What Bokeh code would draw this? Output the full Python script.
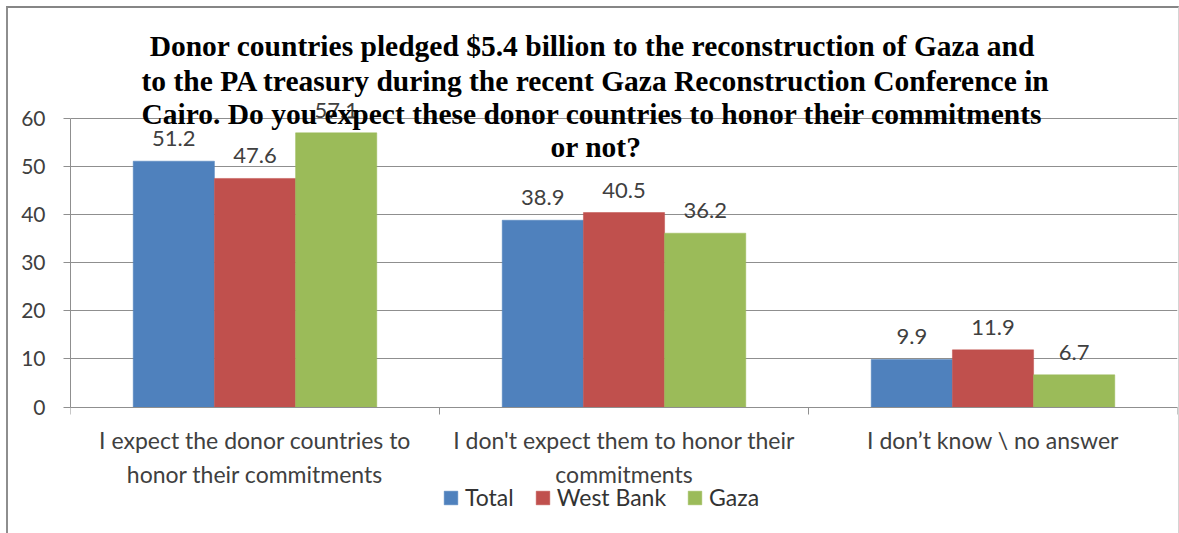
import numpy as np
from bokeh.plotting import figure
from bokeh.models import (ColumnDataSource, Range1d, FixedTicker, LabelSet, Label,
                          Legend, LegendItem)
from bokeh.core.properties import value
from bokeh.transform import dodge
from bokeh.embed import file_html
from bokeh.resources import INLINE

categories = [
    "I expect the donor countries to\nhonor their commitments",
    "I don't expect them to honor their\ncommitments",
    "I don\u2019t know \\ no answer",
]
series_names = ["Total", "West Bank", "Gaza"]
total = [51.2, 38.9, 9.9]
west_bank = [47.6, 40.5, 11.9]
gaza = [57.1, 36.2, 6.7]
y_ticks = [0, 10, 20, 30, 40, 50, 60]
title_lines = [
    "Donor countries pledged $5.4 billion to the reconstruction of  Gaza and",
    "to the PA treasury during the recent Gaza Reconstruction Conference in",
    "Cairo.  Do you expect these donor countries to honor their commitments",
    "or not?",
]
colors = ["#4F81BD", "#C0504D", "#9BBB59"]

x_pos = np.arange(len(categories)) + 0.5
src = ColumnDataSource(dict(
    x=x_pos,
    total=total, west_bank=west_bank, gaza=gaza,
    total_lbl=[f"{v:.1f}" for v in total],
    west_bank_lbl=[f"{v:.1f}" for v in west_bank],
    gaza_lbl=[f"{v:.1f}" for v in gaza],
))

W, H = 1173, 527
p = figure(width=W, height=H, output_backend="svg", toolbar_location=None,
           x_range=Range1d(0, len(categories)), y_range=Range1d(-26.76, 82.16),
           min_border_left=62, min_border_right=4, min_border_top=4,
           min_border_bottom=0, background_fill_color="white",
           border_fill_color="white")
p.outline_line_color = None
p.styles = {"border-top": "2px solid #868686", "border-left": "2px solid #8e8e8e",
            "border-right": "1px solid #d4d4d4", "margin": "6px 0 0 6px"}

bw = 0.22
offsets = [-bw, 0.0, bw]
fields = ["total", "west_bank", "gaza"]
renderers = []
for f, off, c in zip(fields, offsets, colors):
    r = p.vbar(x=dodge("x", off), top=f, width=bw, bottom=0, source=src,
               fill_color=c, line_color=c, line_width=0.5)
    renderers.append(r)
    lbl = LabelSet(x=dodge("x", off), y=f, text=f + "_lbl", source=src,
                   text_align="center", text_baseline="bottom", y_offset=15,
                   text_font=value("Lato"), text_font_size="22px",
                   text_color="#404040")
    p.add_layout(lbl)

# axes
p.xaxis.fixed_location = 0
p.xaxis.ticker = FixedTicker(ticks=list(x_pos), minor_ticks=list(range(len(categories) + 1)))
p.xaxis.major_label_overrides = {float(x): c for x, c in zip(x_pos, categories)}
p.xaxis.major_tick_out = 0
p.xaxis.major_tick_in = 0
p.xaxis.minor_tick_out = 7
p.xaxis.minor_tick_in = 0
p.xaxis.minor_tick_line_color = "#8f8f8f"
p.xaxis.axis_line_color = "#8f8f8f"
p.xaxis.major_label_text_font = "Lato"
p.xaxis.major_label_text_font_size = "23px"
p.xaxis.major_label_text_color = "#404040"
p.xaxis.major_label_text_line_height = 1.2
p.xaxis.major_label_standoff = 12

p.yaxis.ticker = FixedTicker(ticks=y_ticks)
p.yaxis.bounds = (0, 60)
p.yaxis.minor_tick_line_color = None
p.yaxis.major_tick_out = 7
p.yaxis.major_tick_in = 0
p.yaxis.major_tick_line_color = "#8f8f8f"
p.yaxis.axis_line_color = "#8f8f8f"
p.yaxis.major_label_text_font = "Lato"
p.yaxis.major_label_text_font_size = "21px"
p.yaxis.major_label_text_color = "#404040"
p.yaxis.major_label_standoff = 18

p.xgrid.grid_line_color = None
p.ygrid.grid_line_color = "#8f8f8f"
p.ygrid.grid_line_width = 1

# title (placed in data space, overlapping the plot like the original)
title_y = [75.26, 67.95, 61.05, 54.15]
for t, ty in zip(title_lines, title_y):
    p.add_layout(Label(x=1.424, y=ty, text=t, text_align="center",
                       text_baseline="middle", text_font="Liberation Serif",
                       text_font_style="bold", text_font_size="29.5px",
                       text_color="#000000"))

legend = Legend(items=[LegendItem(label=n, renderers=[r]) for n, r in zip(series_names, renderers)],
                orientation="horizontal", location=(372, 24),
                label_text_font="Lato", label_text_font_size="23px",
                label_text_color="#333333", glyph_width=17, glyph_height=17,
                label_standoff=6, spacing=20, padding=0, margin=0,
                border_line_color=None, background_fill_alpha=0)
p.add_layout(legend)

open("out.html", "w").write(file_html(p, INLINE))
